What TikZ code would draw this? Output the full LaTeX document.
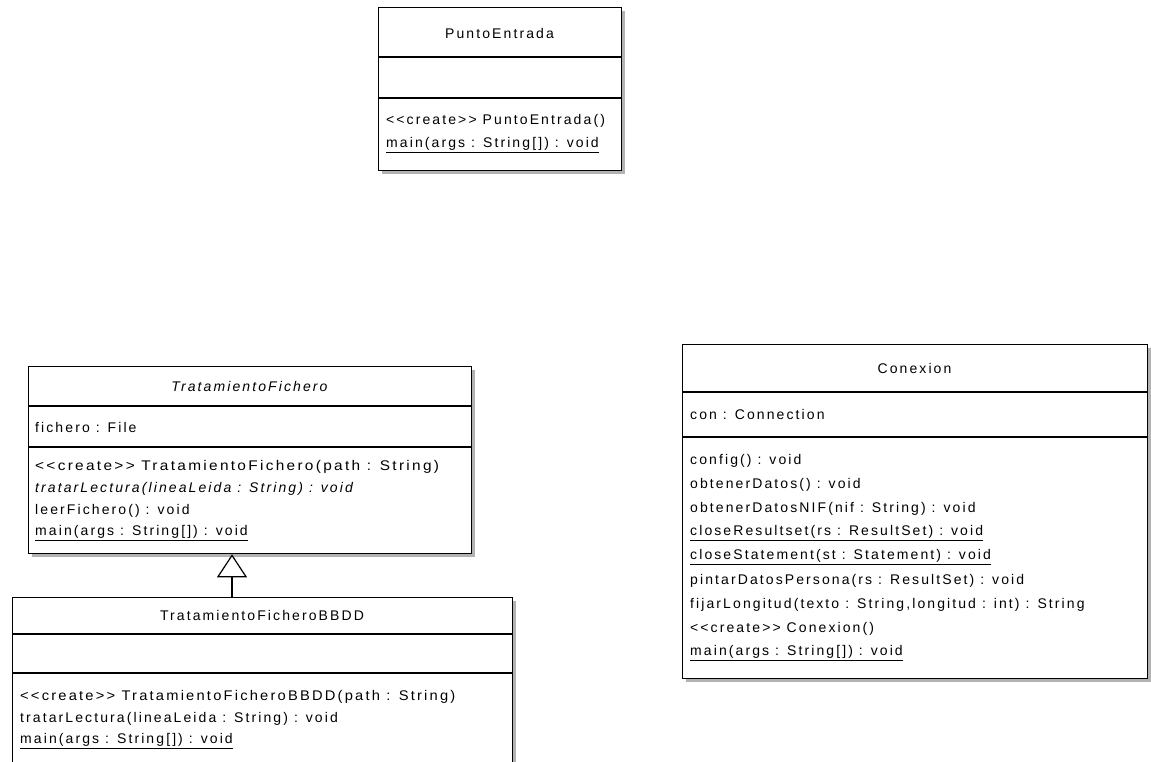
\documentclass[tikz,border=0pt]{standalone}
\usepackage{fontspec}
\setmainfont{Liberation Sans}[LetterSpace=15]
\usetikzlibrary{shadows,arrows.meta}
\newcommand\stereo[1]{<{}<#1>{}>}
\begin{document}
\begin{tikzpicture}[x=1pt,y=-1pt,
  box/.style={draw=black, line width=1.3pt, fill=white, inner sep=0pt, anchor=north west,
    drop shadow={shadow xshift=3pt, shadow yshift=-3pt, fill=black!30, opacity=1}},
  sepline/.style={draw=black, line width=1.2pt},
  txt/.style={anchor=west, inner sep=0pt, font=\fontsize{14}{16}\selectfont},
  ttl/.style={anchor=center, inner sep=0pt, font=\fontsize{14}{16}\selectfont},
  gen/.style={draw=black, line width=1.2pt, -{Triangle[open, length=23pt, width=30pt, line width=1.2pt]}}
]
\useasboundingbox[fill=white] (0,0) rectangle (1151,761);

% PuntoEntrada
\node[box, minimum width=243pt, minimum height=163pt] (pe) at (378,7) {};
\draw[sepline] ([yshift=-50pt]pe.north west) -- ([yshift=-50pt]pe.north east);
\draw[sepline] ([yshift=-91pt]pe.north west) -- ([yshift=-91pt]pe.north east);
\node[ttl] (pe-t) at (499.5,33) {PuntoEntrada};
\node[txt] (pe-m1) at (386,121) {\stereo{create} PuntoEntrada()};
\node[txt] (pe-m2) at (386,145) {\underline{main(args : String[]) : void}};

% TratamientoFichero
\node[box, minimum width=443pt, minimum height=187pt] (tf) at (28,366) {};
\draw[sepline] ([yshift=-40pt]tf.north west) -- ([yshift=-40pt]tf.north east);
\draw[sepline] ([yshift=-81pt]tf.north west) -- ([yshift=-81pt]tf.north east);
\node[ttl] (tf-t) at (249.5,386) {\itshape TratamientoFichero};
\node[txt] (tf-a1) at (35,427) {fichero : File};
\node[txt] (tf-m1) at (35,467) {\scalebox{1.1}[1]{\stereo{create} TratamientoFichero(path : String)}};
\node[txt] (tf-m2) at (35,489) {\itshape tratarLectura(lineaLeida : String) : void};
\node[txt] (tf-m3) at (35,511) {leerFichero() : void};
\node[txt] (tf-m4) at (35,533) {\underline{main(args : String[]) : void}};

% TratamientoFicheroBBDD
\node[box, minimum width=500pt, minimum height=220pt] (bb) at (12,597) {};
\draw[sepline] ([yshift=-37pt]bb.north west) -- ([yshift=-37pt]bb.north east);
\draw[sepline] ([yshift=-76pt]bb.north west) -- ([yshift=-76pt]bb.north east);
\node[ttl] (bb-t) at (262,615) {TratamientoFicheroBBDD};
\node[txt] (bb-m1) at (20,697) {\scalebox{1.05}[1]{\stereo{create} TratamientoFicheroBBDD(path : String)}};
\node[txt] (bb-m2) at (20,719) {tratarLectura(lineaLeida : String) : void};
\node[txt] (bb-m3) at (20,741) {\underline{main(args : String[]) : void}};

% Conexion
\node[box, minimum width=465pt, minimum height=334pt] (cx) at (682,344) {};
\draw[sepline] ([yshift=-48pt]cx.north west) -- ([yshift=-48pt]cx.north east);
\draw[sepline] ([yshift=-93pt]cx.north west) -- ([yshift=-93pt]cx.north east);
\node[ttl] (cx-t) at (914.5,368) {Conexion};
\node[txt] (cx-a1) at (690,414) {con : Connection};
\node[txt] (cx-m1) at (690,461) {config() : void};
\node[txt] (cx-m2) at (690,485) {obtenerDatos() : void};
\node[txt] (cx-m3) at (690,509) {obtenerDatosNIF(nif : String) : void};
\node[txt] (cx-m4) at (690,533) {\underline{closeResultset(rs : ResultSet) : void}};
\node[txt] (cx-m5) at (690,557) {\underline{closeStatement(st : Statement) : void}};
\node[txt] (cx-m6) at (690,581) {pintarDatosPersona(rs : ResultSet) : void};
\node[txt] (cx-m7) at (690,605) {fijarLongitud(texto : String,longitud : int) : String};
\node[txt] (cx-m8) at (690,629) {\stereo{create} Conexion()};
\node[txt] (cx-m9) at (690,653) {\underline{main(args : String[]) : void}};

% generalization
\coordinate (genx) at (232,0);
\draw[gen] (bb.north -| genx) -- (tf.south -| genx);
\end{tikzpicture}
\end{document}
